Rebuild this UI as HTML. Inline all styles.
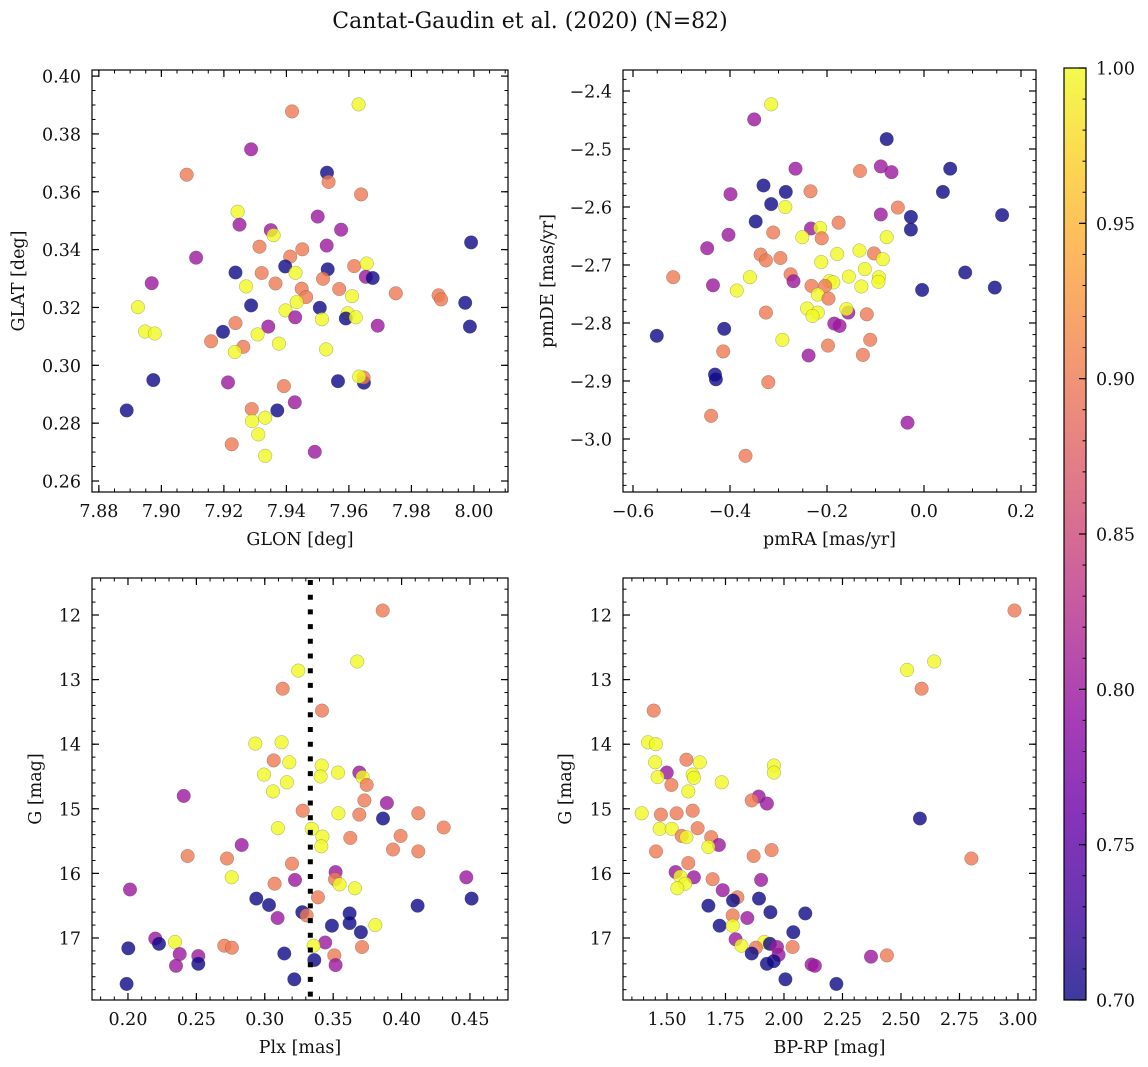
<!DOCTYPE html>
<html><head><meta charset="utf-8"><style>
html,body{margin:0;padding:0;background:#fff;}
svg{display:block;font-family:"DejaVu Serif","Liberation Serif",serif;}
</style></head><body>
<svg id="fig" width="1148" height="1067" viewBox="0 0 1148 1067" xmlns="http://www.w3.org/2000/svg">
<text x="530" y="28" font-size="22" text-anchor="middle" fill="#111">Cantat-Gaudin et al. (2020) (N=82)</text>
</svg>
<script>
// ---- Panel 1: GLON vs GLAT ----
const p1Glon=[7.9631,7.9418,7.9287,7.9081,7.9530,7.9535,7.9639,7.9244,7.9250,7.9500,7.9575,7.9350,7.9359,7.9991,7.9314,7.9451,7.9529,7.9111,7.9412,7.9396,7.9617,7.9657,7.9532,7.9237,7.9321,7.9429,7.9654,7.9676,7.8969,7.9365,7.9517,7.9271,7.9449,7.9569,7.9463,7.9610,7.9750,7.9887,7.9895,7.9972,7.8925,7.9287,7.9433,7.9507,7.9397,7.9596,7.9590,7.9622,7.9514,7.9428,7.9237,7.9987,7.9692,7.8948,7.8979,7.9197,7.9342,7.9308,7.9159,7.9262,7.9235,7.9376,7.9527,7.8974,7.9213,7.9565,7.9648,7.9647,7.9633,7.9392,7.9427,7.8889,7.9289,7.9371,7.9332,7.9290,7.9310,7.9225,7.9491,7.9332];
const p1Glat=[0.3902,0.3878,0.3747,0.3659,0.3666,0.3634,0.3591,0.3531,0.3486,0.3514,0.3469,0.3467,0.3450,0.3425,0.3410,0.3401,0.3414,0.3372,0.3376,0.3342,0.3343,0.3352,0.3332,0.3321,0.3319,0.3320,0.3306,0.3302,0.3284,0.3283,0.3299,0.3273,0.3265,0.3264,0.3236,0.3239,0.3249,0.3242,0.3228,0.3216,0.3201,0.3207,0.3219,0.3199,0.3190,0.3180,0.3162,0.3166,0.3159,0.3166,0.3146,0.3134,0.3137,0.3117,0.3110,0.3116,0.3134,0.3107,0.3083,0.3064,0.3046,0.3075,0.3055,0.2949,0.2941,0.2945,0.2940,0.2958,0.2961,0.2928,0.2872,0.2844,0.2849,0.2844,0.2819,0.2807,0.2761,0.2727,0.2701,0.2687];
const p1Prob=[1,.9,.8,.9,.7,.9,.9,1,.8,.8,.8,.8,1,.7,.9,.9,.8,.8,.9,.7,.9,1,.7,.7,.9,1,.8,.7,.8,.9,.9,1,.9,.9,.9,1,.9,.9,.9,.7,1,.7,1,.7,1,1,.7,1,1,.8,.9,.7,.8,1,1,.7,.8,1,.9,.9,1,1,1,.7,.8,.7,.7,.9,1,.9,.8,.7,.9,.7,1,1,1,.9,.8,1];
const p1XTicks=["7.88","7.90","7.92","7.94","7.96","7.98","8.00"];
const p1YTicks=["0.26","0.28","0.30","0.32","0.34","0.36","0.38","0.40"];

// ---- Panel 2: pmRA vs pmDE ----
const p2PmRA=[-0.315,-0.350,-0.077,-0.265,-0.132,-0.089,-0.067,0.054,-0.331,-0.285,-0.234,0.039,-0.399,-0.315,-0.286,-0.054,-0.089,-0.027,0.161,-0.347,-0.176,-0.233,-0.214,-0.027,-0.311,-0.403,-0.251,-0.211,-0.077,-0.447,-0.133,-0.179,-0.337,-0.326,-0.296,-0.103,-0.085,-0.212,0.085,-0.122,-0.517,-0.359,-0.275,-0.155,-0.093,-0.094,-0.435,-0.269,-0.195,-0.187,-0.232,-0.204,-0.129,0.146,-0.004,-0.386,-0.219,-0.197,-0.241,-0.219,-0.230,-0.326,-0.156,-0.160,-0.118,-0.185,-0.174,-0.412,-0.551,-0.292,-0.111,-0.198,-0.414,-0.238,-0.126,-0.431,-0.429,-0.321,-0.439,-0.034,-0.368];
const p2PmDE=[-2.423,-2.449,-2.483,-2.534,-2.538,-2.530,-2.540,-2.534,-2.563,-2.574,-2.573,-2.574,-2.578,-2.595,-2.600,-2.601,-2.613,-2.617,-2.614,-2.625,-2.627,-2.637,-2.636,-2.639,-2.644,-2.648,-2.652,-2.654,-2.652,-2.671,-2.675,-2.681,-2.682,-2.692,-2.688,-2.680,-2.690,-2.695,-2.713,-2.707,-2.721,-2.721,-2.716,-2.720,-2.721,-2.729,-2.735,-2.728,-2.728,-2.730,-2.736,-2.736,-2.737,-2.739,-2.743,-2.744,-2.751,-2.758,-2.775,-2.782,-2.788,-2.782,-2.782,-2.776,-2.785,-2.801,-2.805,-2.810,-2.822,-2.829,-2.829,-2.839,-2.849,-2.856,-2.855,-2.889,-2.897,-2.902,-2.960,-2.972,-3.029];
const p2Prob=[1,.8,.7,.8,.9,.8,.8,.7,.7,.7,.9,.7,.8,.7,1,.9,.8,.7,.7,.7,.9,.8,1,.7,.9,.8,1,.9,1,.8,1,1,.9,.9,.9,.9,1,1,.7,1,.9,1,.9,1,1,1,.8,.8,1,1,.9,.9,1,.7,.7,1,1,.9,1,1,1,.9,.8,1,.9,.8,.8,.7,.7,1,.9,.9,.9,.8,.9,.7,.7,.9,.9,.8,.9];
const p2XTicks=["\u22120.6","\u22120.4","\u22120.2","0.0","0.2"];
const p2YTicks=["\u22123.0","\u22122.9","\u22122.8","\u22122.7","\u22122.6","\u22122.5","\u22122.4"];

// ---- Panel 3: Plx vs G ----
const p3Plx=[.3862,.3676,.3245,.3131,.3418,.2931,.3123,.3065,.3179,.3416,.2994,.3408,.3535,.3691,.3715,.3162,.3745,.3060,.2407,.3728,.3893,.3277,.3538,.3691,.4122,.3864,.3096,.4308,.3343,.3421,.3625,.3993,.3413,.2831,.3937,.4122,.2436,.2724,.3199,.3518,.2758,.4473,.3221,.3513,.3547,.3072,.3659,.2015,.3389,.2938,.4512,.3031,.4117,.3274,.3306,.3620,.3094,.3620,.3808,.3491,.3703,.2200,.2227,.2344,.2704,.2760,.3442,.3357,.3711,.2002,.2378,.2514,.3143,.3508,.3362,.2514,.2351,.3518,.3216,.1990];
const p3G=[11.93,12.72,12.86,13.14,13.48,13.99,13.97,14.25,14.28,14.33,14.47,14.50,14.44,14.44,14.51,14.59,14.63,14.73,14.80,14.87,14.91,15.03,15.07,15.09,15.07,15.15,15.30,15.29,15.31,15.43,15.45,15.42,15.58,15.56,15.63,15.66,15.73,15.77,15.85,15.98,16.06,16.06,16.10,16.09,16.17,16.16,16.23,16.25,16.37,16.39,16.39,16.49,16.50,16.60,16.65,16.62,16.69,16.77,16.80,16.81,16.91,17.01,17.09,17.06,17.12,17.15,17.07,17.12,17.14,17.16,17.25,17.28,17.24,17.27,17.34,17.40,17.43,17.42,17.64,17.71];
const p3Prob=[.9,1,1,.9,.9,1,1,.9,1,1,1,1,1,.8,1,1,.9,1,.8,.9,.8,.9,1,.9,.9,.7,1,.9,1,1,.9,.9,1,.8,.9,.9,.9,.9,.9,.8,1,.8,.8,.9,1,.9,1,.8,.9,.7,.7,.7,.7,.7,.9,.7,.8,.7,1,.7,.7,.8,.7,1,.9,.9,.8,1,.9,.7,.8,.8,.7,.9,.7,.7,.8,.8,.7,.7];
const p3RefPlx=[0.3333];
const p3XTicks=["0.20","0.25","0.30","0.35","0.40","0.45"];
const gTicks=["12","13","14","15","16","17"];

// ---- Panel 4: BP-RP vs G ----
const p4BpRp=[2.985,2.526,2.642,2.588,1.443,1.419,1.452,1.449,1.583,1.640,1.957,1.957,1.499,1.460,1.610,1.615,1.519,1.734,1.591,1.892,1.862,1.927,1.392,1.474,1.541,1.610,2.581,1.469,1.520,1.631,1.563,1.583,1.689,1.722,1.677,1.947,1.453,1.870,2.801,1.537,1.591,1.615,1.557,1.902,1.695,1.578,1.544,1.738,1.893,1.801,1.782,1.677,1.942,2.091,1.781,1.843,1.725,1.781,2.040,1.793,1.916,1.880,1.818,1.940,1.970,2.037,1.862,1.977,1.927,1.956,2.372,2.440,2.118,2.132,2.006,2.224];
const p4G=[11.93,12.85,12.72,13.14,13.48,13.97,14.00,14.28,14.24,14.28,14.33,14.44,14.44,14.51,14.47,14.52,14.63,14.59,14.73,14.81,14.87,14.92,15.07,15.09,15.07,15.03,15.15,15.31,15.31,15.30,15.42,15.44,15.44,15.56,15.59,15.64,15.66,15.73,15.77,15.98,15.84,16.06,16.05,16.10,16.09,16.16,16.23,16.26,16.39,16.37,16.42,16.50,16.60,16.62,16.65,16.69,16.81,16.81,16.91,17.02,17.06,17.15,17.12,17.09,17.14,17.14,17.24,17.26,17.40,17.36,17.29,17.27,17.41,17.43,17.64,17.71];
const p4Prob=[.9,1,1,.9,.9,1,1,1,.9,1,1,1,.8,1,1,1,.9,1,1,.8,.9,.8,1,.9,.9,.9,.7,1,1,.9,.9,1,.9,.8,1,.9,.9,.9,.9,.8,.9,.8,1,.8,.9,1,1,.8,.7,.9,.7,.7,.7,.7,.9,.8,.7,1,.7,.8,1,.9,1,.7,.8,.9,.7,.8,.7,.7,.8,.9,.8,.8,.7,.7];
const p4XTicks=["1.50","1.75","2.00","2.25","2.50","2.75","3.00"];

// ---- Colorbar ----
const cbTicks=["0.70","0.75","0.80","0.85","0.90","0.95","1.00"];

const NS="http://www.w3.org/2000/svg";
const svg=document.getElementById('fig');
const plasmaStops=[[13,8,135],[65,4,157],[106,0,168],[143,13,164],[177,42,144],[204,71,120],[225,100,98],[242,132,75],[252,166,54],[252,206,37],[240,249,33]];
function plasma(t){t=Math.max(0,Math.min(1,t));const s=t*10;const i=Math.min(9,Math.floor(s));const f=s-i;const a=plasmaStops[i],b=plasmaStops[i+1];
return 'rgb('+a.map((v,k)=>Math.round(v+(b[k]-v)*f)).join(',')+')';}
function mk(tag,attrs,parent){const e=document.createElementNS(NS,tag);for(const k in attrs)e.setAttribute(k,attrs[k]);(parent||svg).appendChild(e);return e;}
const FS=17.5;

function panel(cfg){
  const g=mk('g',{});
  
  
  const X=v=>cfg.x0+(v-cfg.xd[0])/(cfg.xd[1]-cfg.xd[0])*(cfg.x1-cfg.x0);
  const Y=v=>cfg.yInv? cfg.y0+(v-cfg.yd[0])/(cfg.yd[1]-cfg.yd[0])*(cfg.y1-cfg.y0)
                      : cfg.y1-(v-cfg.yd[0])/(cfg.yd[1]-cfg.yd[0])*(cfg.y1-cfg.y0);
  const pg=mk('g',{},g);
  
  
  for(let i=0;i<cfg.xs.length;i++){
    const c=mk('circle',{cx:X(cfg.xs[i]).toFixed(1),cy:Y(cfg.ys[i]).toFixed(1),r:6.8,fill:plasma((cfg.ps[i]-0.7)/0.3),'fill-opacity':0.8,stroke:'#444','stroke-opacity':0.45,'stroke-width':0.5},pg);
    
    
  }
  if(cfg.extra)cfg.extra(g,X,Y);
  const fr=mk('rect',{x:cfg.x0,y:cfg.y0,width:cfg.x1-cfg.x0,height:cfg.y1-cfg.y0,fill:'none',stroke:'#000','stroke-width':1.2},g);
  
  
  const ax=mk('g',{},g);
  
  
  for(let v=cfg.xMinor[0];v<=cfg.xd[1]+1e-9;v+=cfg.xMinor[1]){
    if(v<cfg.xd[0])continue;const x=X(v);
    mk('line',{x1:x,x2:x,y1:cfg.y1,y2:cfg.y1-3.5,stroke:'#000','stroke-width':1},ax);
    mk('line',{x1:x,x2:x,y1:cfg.y0,y2:cfg.y0+3.5,stroke:'#000','stroke-width':1},ax);
  }
  cfg.xLabels.forEach((lab,i)=>{const v=cfg.xMajor[0]+i*cfg.xMajor[1];const x=X(v);
    mk('line',{x1:x,x2:x,y1:cfg.y1,y2:cfg.y1-7,stroke:'#000','stroke-width':1.2},ax);
    mk('line',{x1:x,x2:x,y1:cfg.y0,y2:cfg.y0+7,stroke:'#000','stroke-width':1.2},ax);
    const t=mk('text',{x:x,y:cfg.y1+25,'font-size':FS,'text-anchor':'middle',fill:'#111'},ax);t.textContent=lab;
    
    
  });
  const ay=mk('g',{},g);
  
  
  const ylo=Math.min(cfg.yd[0],cfg.yd[1]),yhi=Math.max(cfg.yd[0],cfg.yd[1]);
  for(let v=cfg.yMinor[0];v<=yhi+1e-9;v+=cfg.yMinor[1]){
    if(v<ylo)continue;const y=Y(v);
    mk('line',{y1:y,y2:y,x1:cfg.x0,x2:cfg.x0+3.5,stroke:'#000','stroke-width':1},ay);
    mk('line',{y1:y,y2:y,x1:cfg.x1,x2:cfg.x1-3.5,stroke:'#000','stroke-width':1},ay);
  }
  cfg.yLabels.forEach((lab,i)=>{const v=cfg.yMajor[0]+i*cfg.yMajor[1];const y=Y(v);
    mk('line',{y1:y,y2:y,x1:cfg.x0,x2:cfg.x0+7,stroke:'#000','stroke-width':1.2},ay);
    mk('line',{y1:y,y2:y,x1:cfg.x1,x2:cfg.x1-7,stroke:'#000','stroke-width':1.2},ay);
    const t=mk('text',{x:cfg.x0-11,y:y+6.5,'font-size':FS,'text-anchor':'end',fill:'#111'},ay);t.textContent=lab;
    
    
  });
  const xt=mk('text',{x:(cfg.x0+cfg.x1)/2,y:cfg.y1+53,'font-size':FS,'text-anchor':'middle',fill:'#111'},g);xt.textContent=cfg.xTitle;
  
  
  const cy=(cfg.y0+cfg.y1)/2;
  const yt=mk('text',{x:cfg.yTitleX,y:cy,'font-size':FS,'text-anchor':'middle',fill:'#111',transform:'rotate(-90 '+cfg.yTitleX+' '+cy+')'},g);yt.textContent=cfg.yTitle;
  
  
}

panel({name:'glon-glat-panel',x0:92,x1:508,y0:70,y1:492,xd:[7.8778,8.0109],yd:[0.2562,0.4021],xs:p1Glon,ys:p1Glat,ps:p1Prob,
  xMajor:[7.88,0.02],xMinor:[7.875,0.005],yMajor:[0.26,0.02],yMinor:[0.26,0.005],xLabels:p1XTicks,yLabels:p1YTicks,xTitle:'GLON [deg]',yTitle:'GLAT [deg]',yTitleX:24});
panel({name:'pm-panel',x0:623,x1:1036,y0:70,y1:492,xd:[-0.6206,0.2309],yd:[-3.0914,-2.3638],xs:p2PmRA,ys:p2PmDE,ps:p2Prob,
  xMajor:[-0.6,0.2],xMinor:[-0.6,0.05],yMajor:[-3.0,0.1],yMinor:[-3.08,0.02],xLabels:p2XTicks,yLabels:p2YTicks,xTitle:'pmRA [mas/yr]',yTitle:'pmDE [mas/yr]',yTitleX:553});
panel({name:'plx-g-panel',x0:92,x1:508,y0:578,y1:1000,xd:[0.1737,0.4778],yd:[11.427,17.960],yInv:true,xs:p3Plx,ys:p3G,ps:p3Prob,
  xMajor:[0.20,0.05],xMinor:[0.18,0.01],yMajor:[12,1],yMinor:[11.6,0.2],xLabels:p3XTicks,yLabels:gTicks,xTitle:'Plx [mas]',yTitle:'G [mag]',yTitleX:41,
  extra:(g,X,Y)=>{p3RefPlx.forEach(v=>{const l=mk('line',{x1:X(v),x2:X(v),y1:580,y2:1000,stroke:'#000','stroke-width':5,'stroke-dasharray':'5 9.7'},g);
    
    });}});
panel({name:'cmd-panel',x0:623,x1:1036,y0:578,y1:1000,xd:[1.312,3.077],yd:[11.427,17.960],yInv:true,xs:p4BpRp,ys:p4G,ps:p4Prob,
  xMajor:[1.5,0.25],xMinor:[1.35,0.05],yMajor:[12,1],yMinor:[11.6,0.2],xLabels:p4XTicks,yLabels:gTicks,xTitle:'BP-RP [mag]',yTitle:'G [mag]',yTitleX:571});

const cb=mk('g',{});


const defs=mk('defs',{},cb);
const lg=mk('linearGradient',{id:'pg',x1:0,y1:1,x2:0,y2:0},defs);
for(let i=0;i<=20;i++){mk('stop',{offset:i/20,'stop-color':plasma(i/20),'stop-opacity':0.8},lg);}
const cbx0=1064,cbx1=1086,cby0=68,cby1=1000;
mk('rect',{x:cbx0,y:cby0,width:cbx1-cbx0,height:cby1-cby0,fill:'url(#pg)',stroke:'#000','stroke-width':1.2},cb);
const CY=v=>cby1-(v-0.7)/0.3*(cby1-cby0);
for(let v=0.70;v<=1.0001;v+=0.01){const y=CY(v);mk('line',{x1:cbx1,x2:cbx1-3.5,y1:y,y2:y,stroke:'#000','stroke-width':1},cb);}
cbTicks.forEach((lab,i)=>{const v=0.70+i*0.05;const y=CY(v);
  mk('line',{x1:cbx1,x2:cbx1-7,y1:y,y2:y,stroke:'#000','stroke-width':1.2},cb);
  const t=mk('text',{x:cbx1+10,y:y+6.5,'font-size':FS,fill:'#111'},cb);t.textContent=lab;
  
  
});
</script>
</body></html>
